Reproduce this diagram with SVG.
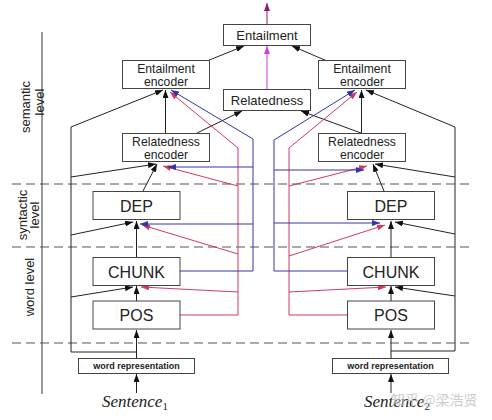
<svg xmlns="http://www.w3.org/2000/svg" width="492" height="420" viewBox="0 0 492 420">
<style>
.box{fill:#fff;stroke:#444;stroke-width:1}
.t{font-family:"Liberation Sans",Arial,sans-serif;font-size:13px;text-anchor:middle;fill:#222}
.two{font-size:12.2px}
.big{font-size:16px}
.wr{font-size:9px;font-weight:bold}
.lvl{font-family:"Liberation Sans",Arial,sans-serif;font-size:13px;text-anchor:middle;fill:#222}
.sent{font-family:"Liberation Serif","Times New Roman",serif;font-style:italic;font-size:17px;fill:#222}
.k{fill:none;stroke:#222;stroke-width:1;marker-end:url(#ak)}
.r{fill:none;stroke:#d23a5c;stroke-width:1;marker-end:url(#ar)}
.b{fill:none;stroke:#3434a8;stroke-width:1;marker-end:url(#ab)}
.dash{stroke:#555;stroke-width:1.2;stroke-dasharray:9,5}
</style>
<defs>
<marker id="ak" markerUnits="userSpaceOnUse" markerWidth="8" markerHeight="6" refX="8" refY="3" orient="auto"><path d="M0,0 L8,3 L0,6 z" fill="#111"/></marker>
<marker id="ar" markerUnits="userSpaceOnUse" markerWidth="8" markerHeight="6" refX="8" refY="3" orient="auto"><path d="M0,0 L8,3 L0,6 z" fill="#d23a5c"/></marker>
<marker id="ab" markerUnits="userSpaceOnUse" markerWidth="8" markerHeight="6" refX="8" refY="3" orient="auto"><path d="M0,0 L8,3 L0,6 z" fill="#3434a8"/></marker>
<marker id="ap" markerUnits="userSpaceOnUse" markerWidth="8" markerHeight="6" refX="8" refY="3" orient="auto"><path d="M0,0 L8,3 L0,6 z" fill="#8b1c6e"/></marker>
<marker id="am" markerUnits="userSpaceOnUse" markerWidth="8" markerHeight="6" refX="8" refY="3" orient="auto"><path d="M0,0 L8,3 L0,6 z" fill="#d63bd6"/></marker>
</defs>
<rect width="492" height="420" fill="#fff"/>

<g id="levels">
<line x1="42" y1="32" x2="42" y2="394" stroke="#333" stroke-width="1"/>
<line class="dash" x1="12" y1="184" x2="473" y2="184"/>
<line class="dash" x1="12" y1="247" x2="473" y2="247"/>
<line class="dash" x1="12" y1="343" x2="473" y2="343"/>
<text class="lvl" transform="translate(30,107) rotate(-90)">semantic</text>
<text class="lvl" transform="translate(44,102) rotate(-90)">level</text>
<text class="lvl" transform="translate(27,215) rotate(-90)">syntactic</text>
<text class="lvl" transform="translate(39,215) rotate(-90)">level</text>
<text class="lvl" transform="translate(34,287) rotate(-90)">word level</text>
</g>

<g id="connectors">
<path d="M267,24 V3" fill="none" stroke="#8b1c6e" stroke-width="1" marker-end="url(#ap)"/>
<path d="M267,89 V46" fill="none" stroke="#d63bd6" stroke-width="1" marker-end="url(#am)"/>
<path class="k" d="M136.5,393 V374"/>
<path class="k" d="M136.5,358 V330"/>
<path class="k" d="M136.5,352 H71 V127 L163,90"/>
<path class="k" d="M71,177 L156,164"/>
<path class="k" d="M71,235 L133,222"/>
<path class="k" d="M71,297 L133,287"/>
<path class="k" d="M136.5,301 V286"/>
<path class="k" d="M136.5,257 V221"/>
<path class="k" d="M143,191 L157,164"/>
<path class="k" d="M165.5,133 V90"/>
<path class="k" d="M207,61 L244,46"/>
<path class="k" d="M197,133 L242,111"/>
<path class="k" d="M391,393 V374"/>
<path class="k" d="M391,358 V330"/>
<path class="k" d="M391,351 H455 V127 L366,90"/>
<path class="k" d="M455,177 L375,164"/>
<path class="k" d="M455,234 L395,222"/>
<path class="k" d="M455,296 L395,287"/>
<path class="k" d="M391,301 V286"/>
<path class="k" d="M391,257 V221"/>
<path class="k" d="M384,191 L373,164"/>
<path class="k" d="M361.5,133 V90"/>
<path class="k" d="M327,61 L292,46"/>
<path class="k" d="M361,133 L301,111"/>
<path class="r" d="M180,315 H238 V148 L170,92"/>
<path class="r" d="M238,292 L141,287"/>
<path class="r" d="M238,254 L142,225"/>
<path class="r" d="M238,186 L163,166"/>
<path class="b" d="M180,271 H253 V139 L171,90"/>
<path class="b" d="M253,224 H140"/>
<path class="b" d="M253,167 H168"/>
<path class="r" d="M347,315 H289 V148 L357,92"/>
<path class="r" d="M289,292 L386,287"/>
<path class="r" d="M289,256 L385,225"/>
<path class="r" d="M289,186 L367,166"/>
<path class="b" d="M347,271 H274 V140 L355,90"/>
<path class="b" d="M274,223 H380"/>
<path class="b" d="M274,170 H364"/>
</g>

<g id="entailment"><rect class="box" x="223.5" y="24.5" width="87" height="21"/><text class="t" x="267" y="39.5">Entailment</text></g>
<g id="relatedness"><rect class="box" x="223.5" y="89.5" width="87" height="21"/><text class="t" x="267" y="104.5">Relatedness</text></g>
<g id="ent-enc-1"><rect class="box" x="122.5" y="60.5" width="87" height="28"/><text class="t two" x="166" y="72.5">Entailment</text><text class="t two" x="166" y="86.2">encoder</text></g>
<g id="ent-enc-2"><rect class="box" x="318.5" y="60.5" width="87" height="28"/><text class="t two" x="362" y="72.5">Entailment</text><text class="t two" x="362" y="86.2">encoder</text></g>
<g id="rel-enc-1"><rect class="box" x="122.5" y="133.5" width="87" height="28"/><text class="t two" x="166" y="145.5">Relatedness</text><text class="t two" x="166" y="159.2">encoder</text></g>
<g id="rel-enc-2"><rect class="box" x="318.5" y="133.5" width="87" height="28"/><text class="t two" x="362" y="145.5">Relatedness</text><text class="t two" x="362" y="159.2">encoder</text></g>
<g id="dep-1"><rect class="box" x="93" y="191.5" width="87" height="28"/><text class="t big" x="136.5" y="211.5">DEP</text></g>
<g id="dep-2"><rect class="box" x="347.5" y="191.5" width="87" height="28"/><text class="t big" x="391" y="211.5">DEP</text></g>
<g id="chunk-1"><rect class="box" x="93" y="257.5" width="87" height="28"/><text class="t big" x="136.5" y="277.5">CHUNK</text></g>
<g id="chunk-2"><rect class="box" x="347.5" y="257.5" width="87" height="28"/><text class="t big" x="391" y="277.5">CHUNK</text></g>
<g id="pos-1"><rect class="box" x="93" y="301" width="87" height="28"/><text class="t big" x="136.5" y="321">POS</text></g>
<g id="pos-2"><rect class="box" x="347.5" y="301" width="87" height="28"/><text class="t big" x="391" y="321">POS</text></g>
<g id="wordrep-1"><rect class="box" x="78.5" y="358.5" width="116" height="15"/><text class="t wr" x="136.5" y="369">word representation</text></g>
<g id="wordrep-2"><rect class="box" x="332.5" y="358.5" width="116" height="15"/><text class="t wr" x="390.5" y="369">word representation</text></g>
<g id="sentence-1"><text class="sent" x="102" y="407">Sentence<tspan font-style="normal" font-size="11" dy="3">1</tspan></text></g>
<g id="sentence-2"><text class="sent" x="364" y="407">Sentence<tspan font-style="normal" font-size="11" dy="3">2</tspan></text></g>
<text x="391" y="405" font-family="'Noto Sans CJK SC',sans-serif" font-size="14" fill="#c4c4c4" opacity="0.85">知乎 @梁浩贤</text>
</svg>
